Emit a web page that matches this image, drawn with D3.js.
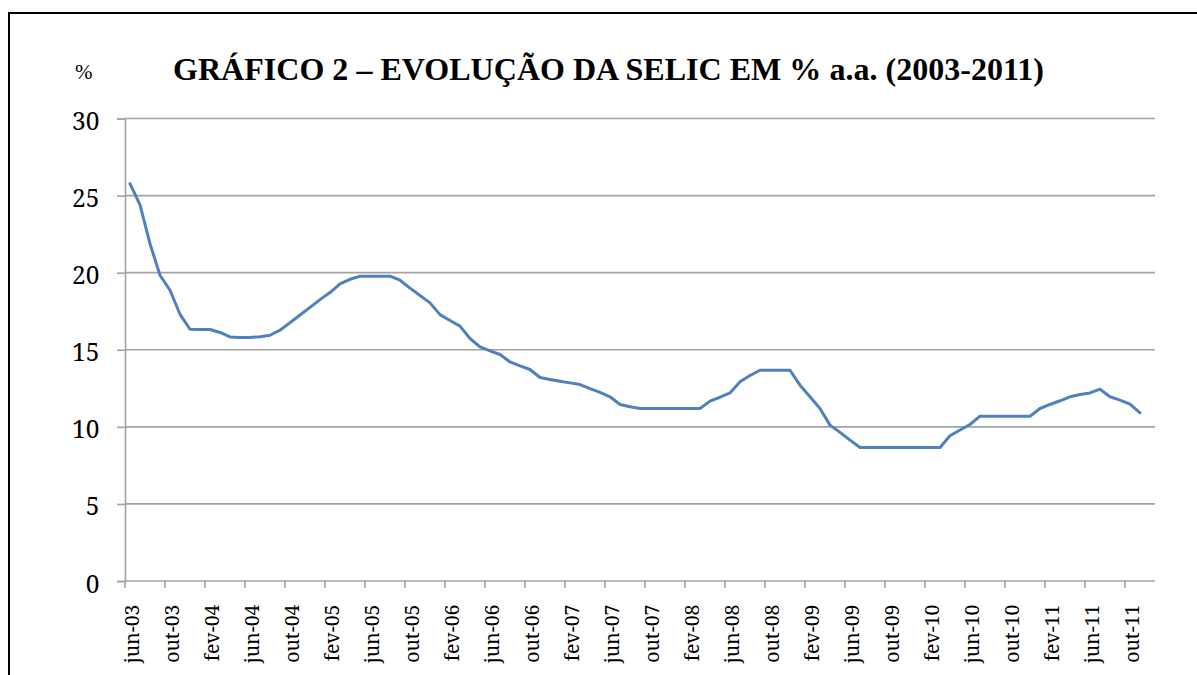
<!DOCTYPE html>
<html>
<head>
<meta charset="utf-8">
<script src="https://cdn.jsdelivr.net/npm/d3@7"></script>
<style>
  html, body { margin: 0; padding: 0; background: #fff; }
  svg { display: block; }
  svg text { font-family: "Liberation Serif", "Times New Roman", serif; }
</style>
</head>
<body>
<svg id="chart" width="1197" height="675"></svg>
<script>
// ---- data ----
const monthNames = ["jan","fev","mar","abr","mai","jun","jul","ago","set","out","nov","dez"];
const startYear = 2003, startMonth = 5; // jun-03
const nMonths = 103;                    // jun-03 .. dez-11
const categories = d3.range(nMonths).map(i => {
  const m = (startMonth + i) % 12;
  const y = startYear + Math.floor((startMonth + i) / 12);
  return monthNames[m] + "-" + String(y % 100).padStart(2, "0");
});
const selic = [
  25.77, 24.40, 21.88, 19.83, 18.86, 17.30, 16.33,                         // 2003 jun-dez
  16.32, 16.31, 16.12, 15.83, 15.80, 15.80, 15.85, 15.94, 16.27, 16.75, 17.25, 17.75, // 2004
  18.25, 18.71, 19.27, 19.57, 19.77, 19.77, 19.77, 19.77, 19.51, 19.00, 18.52, 18.04, // 2005
  17.28, 16.90, 16.53, 15.73, 15.18, 14.93, 14.69, 14.21, 13.95, 13.72, 13.20, 13.07, // 2006
  12.96, 12.85, 12.74, 12.48, 12.23, 11.95, 11.45, 11.30, 11.19, 11.19, 11.19, 11.19, // 2007
  11.19, 11.19, 11.19, 11.67, 11.92, 12.20, 12.92, 13.33, 13.67, 13.67, 13.67, 13.67, // 2008
  12.70, 11.95, 11.19, 10.11, 9.64, 9.14, 8.66, 8.66, 8.66, 8.66, 8.66, 8.66,          // 2009
  8.66, 8.66, 8.66, 9.42, 9.79, 10.15, 10.69, 10.69, 10.69, 10.69, 10.69, 10.69,       // 2010
  11.19, 11.45, 11.69, 11.95, 12.10, 12.20, 12.44, 11.95, 11.73, 11.47, 10.91, null    // 2011
];
const yTicks = [0, 5, 10, 15, 20, 25, 30];
const titleText = "GRÁFICO 2 – EVOLUÇÃO DA SELIC EM % a.a. (2003-2011)";
const unitText = "%";

// ---- drawing ----
const svg = d3.select("#chart");
const gridColor = "#a3a3a3";
const lineColor = "#4f81bd";
const axisFont = "'Noto Serif', 'DejaVu Serif', serif";

// outer frame (top and left edges visible)
svg.append("path")
  .attr("d", "M9,680 L9,13 L1200,13")
  .attr("fill", "none").attr("stroke", "#000").attr("stroke-width", 2);

const x = d3.scaleBand().domain(categories).range([125, 1155]).paddingInner(0).paddingOuter(0);
const y = d3.scaleLinear().domain([0, 30]).range([581, 118.5]);

// gridlines
svg.append("g").selectAll("line").data(yTicks.filter(t => t > 0)).join("line")
  .attr("x1", 125).attr("x2", 1155)
  .attr("y1", d => y(d)).attr("y2", d => y(d))
  .attr("stroke", gridColor).attr("stroke-width", 1.6);

// y axis
const yAxis = d3.axisLeft(y).tickValues(yTicks).tickSize(8).tickPadding(17.5).tickFormat(d3.format("d"));
const gy = svg.append("g").attr("transform", "translate(125,0)").call(yAxis);
gy.attr("font-family", null).attr("font-size", null);
gy.select(".domain").attr("stroke", gridColor).attr("stroke-width", 1.6);
gy.selectAll(".tick line").attr("stroke", gridColor).attr("stroke-width", 1.6);
gy.selectAll(".tick text")
  .style("font-family", axisFont)
  .style("font-size", "24.5px").attr("fill", "#000")
  .attr("dy", "0.45em");

// x axis
const labelIdx = d3.range(0, nMonths, 4).filter(i => i <= 100);
const gx = svg.append("g");
gx.append("line").attr("x1", 125).attr("x2", 1155).attr("y1", y(0)).attr("y2", y(0))
  .attr("stroke", gridColor).attr("stroke-width", 1.6);
gx.selectAll("line.tk").data(labelIdx).join("line").attr("class", "tk")
  .attr("x1", i => x(categories[i])).attr("x2", i => x(categories[i]))
  .attr("y1", y(0)).attr("y2", y(0) + 7)
  .attr("stroke", gridColor).attr("stroke-width", 1.6);
gx.selectAll("text").data(labelIdx).join("text")
  .attr("transform", i => `translate(${x(categories[i]) + x.bandwidth() / 2},${y(0) + 23.5}) rotate(-90)`)
  .attr("text-anchor", "end")
  .attr("dy", "0.48em")
  .style("font-family", axisFont)
  .style("font-size", "19.5px").attr("fill", "#000")
  .text(i => categories[i]);

// line
const line = d3.line()
  .defined(d => d != null)
  .x((d, i) => x(categories[i]) + x.bandwidth() / 2)
  .y(d => y(d));
svg.append("path").datum(selic)
  .attr("d", line)
  .attr("fill", "none").attr("stroke", lineColor).attr("stroke-width", 3)
  .attr("stroke-linejoin", "round").attr("stroke-linecap", "round");

// title and unit label
const title = svg.append("text").attr("x", 173).attr("y", 80)
  .style("font-family", "'Liberation Serif', serif")
  .style("font-weight", "bold").style("font-size", "34px").attr("fill", "#000")
  .text(titleText);
const tw = title.node().getComputedTextLength();
title.style("font-size", (34 * 871 / tw).toFixed(2) + "px");

svg.append("text").attr("x", 75).attr("y", 79)
  .style("font-family", "'Liberation Serif', serif")
  .style("font-size", "21px").attr("fill", "#000")
  .text(unitText);
</script>
</body>
</html>
